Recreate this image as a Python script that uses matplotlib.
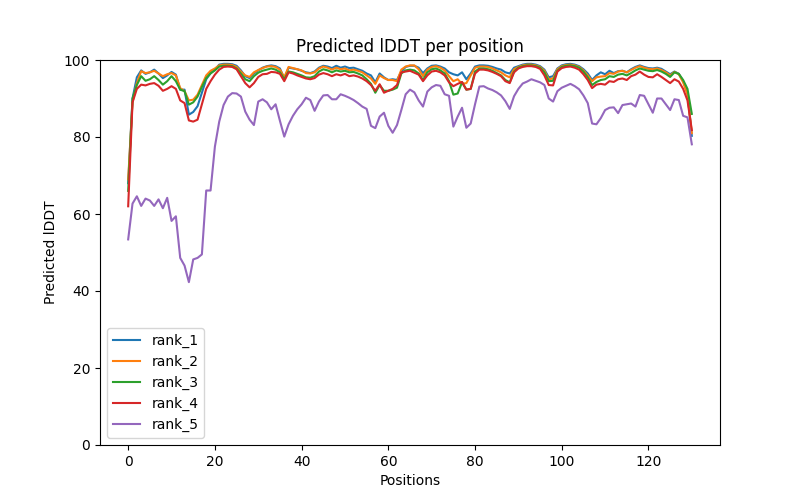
import numpy as np
import matplotlib
matplotlib.use('Agg')
import matplotlib.pyplot as plt

# predicted lDDT values for each rank (positions 0..130)
rank_1 = [68, 90, 95.5, 97.3, 96.4, 96.8, 97.5, 96.5, 95.3, 96.0,
          96.9, 96.2, 92.3, 92.3, 85.8, 86.5, 88.0, 91.5, 95.0, 96.6,
          97.5, 98.8, 99.0, 99.0, 98.9, 98.5, 97.3, 95.8, 95.3, 96.5,
          97.3, 98.0, 98.4, 98.6, 98.4, 97.8, 95.2, 98.0, 97.8, 97.6,
          97.2, 96.8, 96.6, 97.0, 98.0, 98.5, 98.3, 97.9, 98.5, 98.0,
          98.3, 97.9, 98.0, 97.6, 97.2, 96.5, 96.0, 94.2, 96.5, 95.5,
          94.8, 95.0, 94.8, 97.0, 98.2, 98.5, 98.5, 98.0, 96.6, 97.8,
          98.5, 98.6, 98.3, 97.8, 96.8, 96.3, 96.0, 96.8, 95.0, 96.5,
          98.3, 98.6, 98.6, 98.5, 98.2, 97.8, 97.5, 96.8, 96.5, 98.0,
          98.4, 98.8, 99.0, 99.0, 98.8, 98.4, 97.5, 95.5, 95.8, 97.8,
          98.6, 98.9, 99.0, 98.8, 98.4, 97.6, 96.5, 94.8, 96.0, 96.8,
          96.3, 97.2, 96.6, 97.1, 97.2, 96.8, 97.6, 98.2, 98.6, 98.2,
          97.9, 97.8, 98.0, 97.7, 97.0, 96.3, 97.0, 96.4, 94.5, 91.5,
          80.3]

rank_2 = [69, 89, 94.0, 97.1, 96.6, 96.8, 97.2, 96.5, 95.8, 96.3,
          96.6, 96.0, 92.7, 91.9, 89.5, 89.7, 91.0, 93.5, 96.0, 97.2,
          97.8, 98.6, 98.8, 98.8, 98.7, 98.2, 97.0, 96.0, 95.6, 96.8,
          97.4, 97.9, 98.3, 98.4, 98.2, 97.5, 95.5, 98.2, 97.9, 97.6,
          97.3, 96.6, 96.5, 96.8, 97.8, 98.3, 98.0, 97.5, 98.0, 97.6,
          97.8, 97.3, 97.5, 97.2, 96.8, 96.0, 95.2, 93.8, 96.0, 95.3,
          94.8, 94.8, 94.5, 97.5, 98.3, 98.6, 98.6, 97.6, 95.8, 97.5,
          98.2, 98.4, 98.0, 97.3, 95.8, 94.5, 95.0, 93.8, 94.0, 96.0,
          98.0, 98.3, 98.3, 98.2, 97.8, 97.3, 96.8, 96.0, 95.5, 97.6,
          98.2, 98.6, 98.8, 98.8, 98.6, 98.2, 97.2, 95.0, 95.2, 97.6,
          98.4, 98.7, 98.8, 98.6, 98.2, 97.3, 96.0, 94.5, 95.5, 95.7,
          95.8, 96.6, 96.4, 97.0, 97.2, 96.8, 97.4, 98.0, 98.4, 98.0,
          97.7, 97.6, 97.8, 97.4, 96.8, 96.0, 96.9, 96.3, 94.2, 91.0,
          81.0]

rank_3 = [66, 90, 93.5, 95.8, 94.6, 95.0, 95.8, 94.8, 93.6, 94.5,
          95.8, 94.5, 92.3, 91.9, 88.4, 89.0, 90.5, 93.0, 95.3, 96.5,
          97.3, 98.3, 98.5, 98.5, 98.4, 97.8, 96.5, 95.0, 94.5, 95.8,
          96.7, 97.2, 97.5, 97.8, 97.5, 96.8, 95.0, 97.0, 96.8, 96.4,
          96.0, 95.5, 95.4, 95.8, 97.0, 97.6, 97.3, 96.8, 97.3, 97.0,
          97.2, 96.8, 96.9, 96.5, 96.0, 95.0, 93.8, 91.5, 93.5, 92.0,
          92.0, 92.3, 92.8, 96.5, 97.3, 97.5, 97.3, 96.5, 94.8, 96.8,
          97.6, 97.8, 97.3, 96.5, 94.5, 91.0, 91.3, 94.2, 92.3, 92.5,
          97.0, 97.8, 97.8, 97.6, 97.2, 96.6, 96.0, 94.8, 94.2, 97.0,
          98.0, 98.4, 98.6, 98.6, 98.4, 98.0, 96.8, 94.5, 94.6, 97.2,
          98.2, 98.5, 98.6, 98.4, 98.0, 97.0, 95.5, 93.5, 94.3, 94.8,
          95.0, 95.8, 95.6, 96.2, 96.4, 96.0, 96.6, 97.3, 97.8, 97.5,
          97.2, 97.1, 97.4, 97.0, 96.4, 95.6, 96.8, 96.4, 94.8, 92.5,
          86.0]

rank_4 = [62, 89, 92.5, 93.6, 93.4, 93.8, 94.0, 93.3, 92.0, 92.5,
          93.2, 92.5, 89.5, 88.8, 84.3, 84.0, 84.5, 88.5, 92.5, 94.5,
          96.2, 97.5, 98.2, 98.3, 98.2, 97.6, 95.8, 94.0, 92.9, 94.0,
          95.6, 96.3, 96.4, 96.9, 96.8, 96.4, 94.5, 96.8, 96.5, 96.0,
          95.6, 95.2, 95.0, 95.3, 96.2, 96.6, 96.3, 95.8, 96.3, 96.0,
          96.4, 95.8, 96.0, 95.7, 95.2, 94.5, 93.5, 92.0, 93.7, 91.5,
          92.0, 92.5, 93.5, 96.8, 97.0, 97.2, 96.7, 96.2, 94.5, 96.0,
          97.0, 97.2, 96.8, 96.0, 94.2, 93.2, 93.8, 94.3, 92.3, 92.5,
          96.5, 97.5, 97.5, 97.3, 96.9, 96.4, 95.8, 94.5, 94.0, 96.8,
          97.8, 98.2, 98.4, 98.4, 98.2, 97.7, 96.0, 93.5, 93.4, 97.0,
          97.9, 98.2, 98.3, 98.0, 97.5, 96.3, 94.8, 92.7, 93.6, 93.8,
          93.6, 94.5, 94.3, 95.0, 95.2, 94.8, 95.8, 96.2, 97.0, 96.2,
          95.6, 95.5, 96.3, 95.6, 94.8, 94.0, 95.0, 94.4, 92.5, 89.5,
          81.8]

rank_5 = [53.4, 62.7, 64.6, 62.1, 64.0, 63.5, 62.1, 63.8, 61.5, 64.2,
          58.2, 59.4, 48.6, 46.6, 42.3, 48.2, 48.6, 49.5, 66.1, 66.1,
          77.5, 84.0, 88.3, 90.5, 91.4, 91.3, 90.5, 86.6, 84.5, 83.1,
          89.2, 89.8, 89.0, 87.2, 88.5, 84.2, 80.1, 83.3, 85.5, 87.2,
          88.5, 90.2, 89.6, 86.8, 89.2, 90.8, 90.9, 89.8, 89.8, 91.1,
          90.7, 90.2, 89.6, 88.8, 87.9, 87.3, 82.9, 82.3, 85.3, 86.3,
          82.9, 81.1, 83.1, 87.0, 91.1, 92.3, 91.6, 89.5, 87.9, 91.8,
          92.9, 93.5, 93.3, 91.1, 90.7, 82.7, 85.3, 87.6, 82.4, 83.5,
          88.5, 93.1, 93.2, 92.6, 92.2, 91.6, 90.8, 89.3, 87.3, 90.6,
          92.5, 93.9, 94.4, 95.0, 94.6, 94.2, 93.5, 90.0, 89.2, 91.9,
          92.8, 93.3, 93.8, 93.2, 92.4, 90.8, 88.8, 83.5, 83.3, 84.9,
          87.0, 87.6, 87.7, 86.2, 88.3, 88.5, 88.7, 87.9, 90.9, 90.7,
          88.5, 86.3, 90.0, 90.0, 88.5, 87.0, 89.8, 89.6, 85.5, 85.1,
          78.1]

ranks = [rank_1, rank_2, rank_3, rank_4, rank_5]
labels = ['rank_1', 'rank_2', 'rank_3', 'rank_4', 'rank_5']

plt.figure(figsize=(8, 5), dpi=100)
for vals, lab in zip(ranks, labels):
    plt.plot(np.arange(len(vals)), vals, label=lab)
plt.title('Predicted lDDT per position')
plt.legend(loc='lower left')
plt.ylim(0, 100)
plt.xlabel('Positions')
plt.ylabel('Predicted lDDT')
plt.savefig('out.png')
